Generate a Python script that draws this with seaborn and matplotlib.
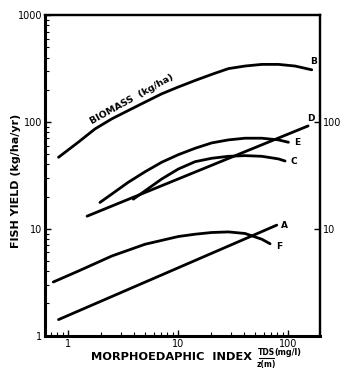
import numpy as np
import pandas as pd
import matplotlib
matplotlib.use("Agg")
import matplotlib.pyplot as plt
import seaborn as sns
from matplotlib.ticker import LogLocator, NullFormatter, FixedLocator, FixedFormatter

# curves (morphoedaphic index vs yield)
a_x = [0.82, 78.9]
a_y = [1.41, 10.8]
b_x = [0.82, 1.24, 1.76, 2.5, 3.53, 5.01, 7.11, 10.06, 14.3, 20.2, 28.7, 40.6, 57.7, 81.7, 115.8, 164.0]
b_y = [46.6, 64.5, 85.9, 106.7, 127.7, 153.0, 183.0, 212.0, 244.0, 278.0, 315.0, 333.0, 345.0, 345.0, 333.0, 307.0]
c_x = [3.92, 5.01, 7.11, 10.06, 14.3, 20.2, 28.7, 40.6, 57.7, 81.7, 93.9]
c_y = [18.9, 22.6, 29.2, 36.2, 42.4, 45.6, 47.6, 48.3, 47.6, 45.0, 43.0]
d_x = [1.49, 152.0]
d_y = [13.1, 91.6]
e_x = [1.95, 2.5, 3.53, 5.01, 7.11, 10.06, 14.3, 20.2, 28.7, 40.6, 57.7, 81.7, 100.7]
e_y = [17.6, 21.1, 27.2, 34.1, 41.9, 49.3, 56.6, 63.5, 67.8, 70.3, 70.3, 67.8, 64.4]
f_x = [0.735, 1.24, 2.5, 5.01, 10.06, 14.3, 20.2, 28.7, 40.6, 57.7, 68.6]
f_y = [3.17, 4.01, 5.55, 7.15, 8.45, 8.88, 9.21, 9.33, 9.02, 7.97, 7.23]

curve_names = ["A", "B", "C", "D", "E", "F"]
curve_x = [a_x, b_x, c_x, d_x, e_x, f_x]
curve_y = [a_y, b_y, c_y, d_y, e_y, f_y]

left_ticks = [1, 10, 100, 1000]
left_labels = ["1", "10", "100", "1000"]
bottom_ticks = [1, 10, 100]
bottom_labels = ["1", "10", "100"]
right_ticks = [10, 100]
right_labels = ["10", "100"]

# where each end label sits relative to the curve end (points)
label_offsets = {"A": (3, 0), "B": (-1, 6), "C": (4, 0), "D": (-1, 5), "E": (4, 0), "F": (4, -2)}

sns.set_style("ticks")
plt.rcParams["font.family"] = ["DejaVu Sans"]
plt.rcParams.update({"text.color": "black", "axes.labelcolor": "black",
                     "xtick.color": "black", "ytick.color": "black",
                     "axes.edgecolor": "black"})

fig = plt.figure(figsize=(3.5, 3.81), dpi=100)
ax = fig.add_axes([0.1286, 0.1181, 0.7857, 0.8425])

for name, xs, ys in zip(curve_names, curve_x, curve_y):
    df = pd.DataFrame({"x": xs, "y": ys})
    sns.lineplot(data=df, x="x", y="y", ax=ax, color="black", lw=2.0,
                 sort=False, estimator=None)
    ax.annotate(name, (xs[-1], ys[-1]), xytext=label_offsets[name],
                textcoords="offset points", fontsize=6.5, fontweight="bold",
                ha="left", va="center")

ax.set_xscale("log")
ax.set_yscale("log")
ax.set_xlim(0.618, 195)
ax.set_ylim(0.99, 1000)

ax.text(3.8, 162, "BIOMASS  (kg/ha)", rotation=29, fontsize=6.8, fontweight="bold",
        ha="center", va="center")

ax.yaxis.set_major_locator(FixedLocator(left_ticks))
ax.yaxis.set_major_formatter(FixedFormatter(left_labels))
ax.yaxis.set_minor_locator(LogLocator(base=10, subs=np.arange(2, 10)))
ax.yaxis.set_minor_formatter(NullFormatter())
ax.xaxis.set_major_locator(FixedLocator(bottom_ticks))
ax.xaxis.set_major_formatter(FixedFormatter(bottom_labels))
ax.xaxis.set_minor_locator(LogLocator(base=10, subs=np.arange(2, 10)))
ax.xaxis.set_minor_formatter(NullFormatter())

ax.tick_params(which="both", direction="in", color="black", labelsize=7, pad=2)
ax.tick_params(which="major", length=4, width=1)
ax.tick_params(which="minor", length=3, width=0.8)

ax2 = ax.twinx()
ax2.set_yscale("log")
ax2.set_ylim(ax.get_ylim())
ax2.yaxis.set_major_locator(FixedLocator(right_ticks))
ax2.yaxis.set_major_formatter(FixedFormatter(right_labels))
ax2.yaxis.set_minor_locator(FixedLocator([]))
ax2.tick_params(direction="in", length=4, width=1, labelsize=7, pad=2)

for s in ["left", "bottom"]:
    ax.spines[s].set_linewidth(2.2)
for s in ["top", "right"]:
    ax.spines[s].set_linewidth(1.6)
    ax2.spines[s].set_linewidth(1.6)

ax.set_xlabel("")
ax.set_ylabel("")
fig.text(0.046, 0.525, "FISH YIELD (kg/ha/yr)", rotation=90, fontsize=8,
         fontweight="bold", ha="center", va="center")

fig.text(0.49, 0.063, "MORPHOEDAPHIC  INDEX", fontsize=8.2, fontweight="bold",
         ha="center", va="center")
fig.text(0.76, 0.074, "TDS", fontsize=5.5, fontweight="bold", ha="center", va="center")
fig.text(0.762, 0.044, "z(m)", fontsize=5.5, fontweight="bold", ha="center", va="center")
fig.add_artist(plt.Line2D([0.74, 0.782], [0.06, 0.06], color="black", lw=0.8))
fig.text(0.784, 0.076, "(mg/l)", fontsize=5.8, fontweight="bold", ha="left", va="center")

fig.savefig("out.png", dpi=100)
